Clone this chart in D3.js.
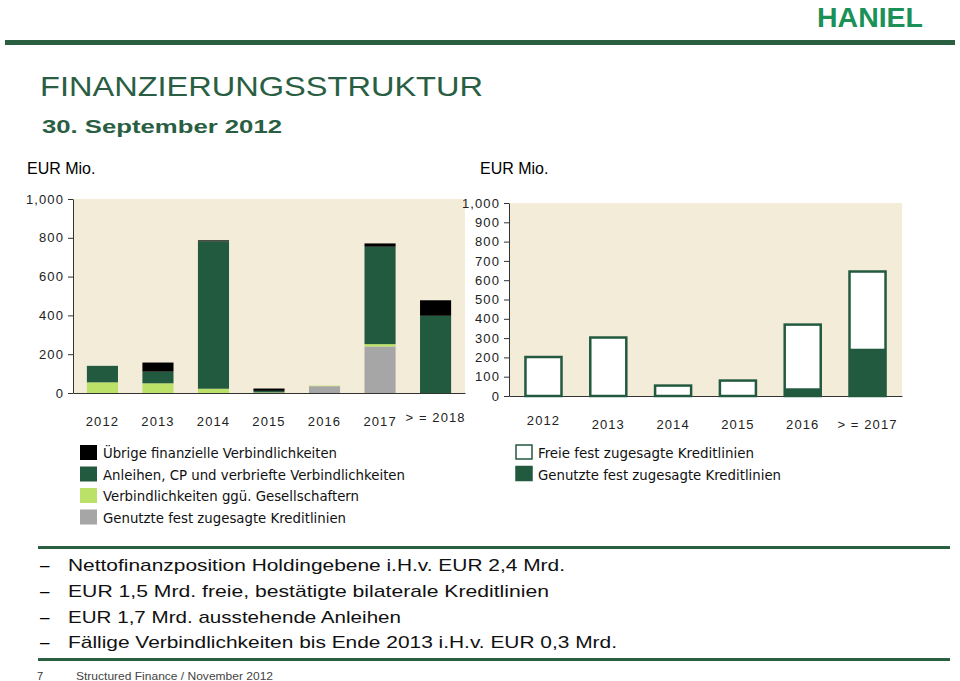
<!DOCTYPE html>
<html lang="de">
<head>
<meta charset="utf-8">
<title>Finanzierungsstruktur</title>
<script src="https://d3js.org/d3.v7.min.js"></script>
<style>
  body { margin: 0; background: #fff; }
  svg text { font-family: "Liberation Sans", Arial, sans-serif; }
  .achse text { font-size: 13px; letter-spacing: 1.1px; fill: #222; }
  .achse path, .achse line { stroke: #333; }
  .leg text { font-family: "DejaVu Sans Condensed", "DejaVu Sans", sans-serif; font-size: 14px; fill: #111; }
</style>
</head>
<body>
<div id="chart"></div>
<script>
"use strict";

// linke grafik: faelligkeiten nach jahr
var jahreLinks = ["2012", "2013", "2014", "2015", "2016", "2017", "> = 2018"];
var genutzteKredit = [0, 0, 0, 0, 35, 240, 0];
var gesellschafter = [55, 50, 22, 3, 3, 12, 0];
var anleihen = [85, 60, 760, 8, 0, 502, 398];
var uebrige = [0, 47, 5, 12, 0, 17, 80];
var ticksLinks = [0, 200, 400, 600, 800, 1000];

// rechte grafik: kreditlinien
var jahreRechts = ["2012", "2013", "2014", "2015", "2016", "> = 2017"];
var genutzteLinien = [2, 5, 2, 2, 40, 245];
var freieLinien = [200, 298, 52, 78, 330, 400];
var ticksRechts = [0, 100, 200, 300, 400, 500, 600, 700, 800, 900, 1000];

var legendeLinks = ["Übrige finanzielle Verbindlichkeiten", "Anleihen, CP und verbriefte Verbindlichkeiten",
  "Verbindlichkeiten ggü. Gesellschaftern", "Genutzte fest zugesagte Kreditlinien"];
var legendeRechts = ["Freie fest zugesagte Kreditlinien", "Genutzte fest zugesagte Kreditlinien"];

var stichpunkte = ["Nettofinanzposition Holdingebene i.H.v. EUR 2,4 Mrd.",
  "EUR 1,5 Mrd. freie, bestätigte bilaterale Kreditlinien",
  "EUR 1,7 Mrd. ausstehende Anleihen",
  "Fällige Verbindlichkeiten bis Ende 2013 i.H.v. EUR 0,3 Mrd."];

var gruen = "#225a3f", hellgruen = "#bbe169", grau = "#a6a6a6", beige = "#f3ecd8", linie = "#2b5f42";

var svg = d3.select("#chart").append("svg").attr("width", 960).attr("height", 681);

// kopf
svg.append("text").attr("x", 817).attr("y", 27).attr("textLength", 106).attr("lengthAdjust", "spacingAndGlyphs")
  .style("font-size", "28px").style("font-weight", "bold").style("fill", "#1b9157").text("HANIEL");
svg.append("rect").attr("x", 5).attr("y", 40).attr("width", 950).attr("height", 5).attr("fill", linie);
svg.append("text").attr("x", 40).attr("y", 96).attr("textLength", 443).attr("lengthAdjust", "spacingAndGlyphs")
  .style("font-family", "'Liberation Sans Narrow', 'Liberation Sans', sans-serif")
  .style("font-size", "28px").style("fill", "#2a5e43").text("FINANZIERUNGSSTRUKTUR");
svg.append("text").attr("x", 42).attr("y", 133).attr("textLength", 240).attr("lengthAdjust", "spacingAndGlyphs")
  .style("font-size", "18px").style("font-weight", "bold").style("fill", "#2a5e43").text("30. September 2012");

svg.append("text").attr("x", 27).attr("y", 174).style("font-size", "16px").text("EUR Mio.");
svg.append("text").attr("x", 480).attr("y", 174).style("font-size", "16px").text("EUR Mio.");

function zeichneAchsen(g, x, y, ticks, xl, xr, labelDy) {
  g.append("rect").attr("x", xl).attr("y", y(1000)).attr("width", xr - xl).attr("height", y(0) - y(1000)).attr("fill", beige);
  var ya = g.append("g").attr("class", "achse").attr("transform", "translate(" + xl + ",0)")
    .call(d3.axisLeft(y).tickValues(ticks).tickFormat(d3.format(",")).tickSize(5).tickSizeOuter(0).tickPadding(4));
  var xa = g.append("g").attr("class", "achse").attr("transform", "translate(0," + y(0) + ")")
    .call(d3.axisBottom(x).tickSize(0).tickPadding(24));
  xa.selectAll(".tick text").attr("dy", function (d, i) { return labelDy(i); });
  return xa;
}

// linke grafik
var xL = d3.scaleBand().domain(jahreLinks).range([73, 465]).paddingInner(0.44).paddingOuter(0.25);
var yL = d3.scaleLinear().domain([0, 1000]).range([393, 199]);
var gL = svg.append("g");
zeichneAchsen(gL, xL, yL, ticksLinks, 73, 465, function (i) { return i === 6 ? "0.35em" : "0.71em"; });

var tabelleL = jahreLinks.map(function (j, i) {
  return { jahr: j, grau: genutzteKredit[i], hell: gesellschafter[i], dunkel: anleihen[i], schwarz: uebrige[i] };
});
var stapelL = d3.stack().keys(["grau", "hell", "dunkel", "schwarz"])(tabelleL);
var farbenL = { grau: grau, hell: hellgruen, dunkel: gruen, schwarz: "#000" };
gL.selectAll("g.serie").data(stapelL).enter().append("g").attr("class", "serie")
  .attr("fill", function (s) { return farbenL[s.key]; })
  .selectAll("rect").data(function (s) { return s; }).enter().append("rect")
  .attr("x", function (d) { return xL(d.data.jahr); })
  .attr("width", xL.bandwidth())
  .attr("y", function (d) { return yL(d[1]); })
  .attr("height", function (d) { return yL(d[0]) - yL(d[1]); });
gL.select(".achse").raise();

// rechte grafik
var xR = d3.scaleBand().domain(jahreRechts).range([509, 902]).paddingInner(0.444).paddingOuter(0.254);
var yR = d3.scaleLinear().domain([0, 1000]).range([396, 203]);
var gR = svg.append("g");
zeichneAchsen(gR, xR, yR, ticksRechts, 509, 902, function (i) { return i === 0 ? "0.35em" : "0.71em"; });

var tabelleR = jahreRechts.map(function (j, i) {
  return { jahr: j, genutzt: genutzteLinien[i], frei: freieLinien[i] };
});
gR.selectAll("rect.frei").data(tabelleR).enter().append("rect").attr("class", "frei")
  .attr("x", function (d) { return xR(d.jahr); })
  .attr("width", xR.bandwidth())
  .attr("y", function (d) { return yR(d.genutzt + d.frei); })
  .attr("height", function (d) { return yR(0) - yR(d.genutzt + d.frei); })
  .attr("fill", "#fff").attr("stroke", gruen).attr("stroke-width", 2.5);
gR.selectAll("rect.genutzt").data(tabelleR).enter().append("rect").attr("class", "genutzt")
  .attr("x", function (d) { return xR(d.jahr); })
  .attr("width", xR.bandwidth())
  .attr("y", function (d) { return yR(d.genutzt); })
  .attr("height", function (d) { return yR(0) - yR(d.genutzt); })
  .attr("fill", gruen);

// legenden
var legL = svg.append("g").attr("class", "leg");
var legFarbenL = ["#000", gruen, hellgruen, grau];
var legBreitenL = [234, 302, 256, 243];
legendeLinks.forEach(function (t, i) {
  var yy = 445 + i * 21.5;
  legL.append("rect").attr("x", 80).attr("y", yy).attr("width", 17).attr("height", 15).attr("fill", legFarbenL[i]);
  legL.append("text").attr("x", 103).attr("y", yy + 13).attr("textLength", legBreitenL[i])
    .attr("lengthAdjust", "spacingAndGlyphs").text(t);
});
var legR = svg.append("g").attr("class", "leg");
var legBreitenR = [216, 243];
legendeRechts.forEach(function (t, i) {
  var yy = 445 + i * 21.5;
  legR.append("rect").attr("x", 516).attr("y", yy).attr("width", 16).attr("height", 14)
    .attr("fill", i === 0 ? "#fff" : gruen).attr("stroke", gruen).attr("stroke-width", 1.5);
  legR.append("text").attr("x", 538).attr("y", yy + 13).attr("textLength", legBreitenR[i])
    .attr("lengthAdjust", "spacingAndGlyphs").text(t);
});

// stichpunkte
svg.append("rect").attr("x", 38).attr("y", 546).attr("width", 912).attr("height", 3).attr("fill", linie);
var breiten = [497, 481, 333, 549];
stichpunkte.forEach(function (t, i) {
  var yy = 571 + i * 25.8;
  svg.append("text").attr("x", 40).attr("y", yy).style("font-size", "17px").text("–");
  svg.append("text").attr("x", 68).attr("y", yy).attr("textLength", breiten[i]).attr("lengthAdjust", "spacingAndGlyphs")
    .style("font-size", "17px").style("fill", "#111").text(t);
});
svg.append("rect").attr("x", 38).attr("y", 658).attr("width", 912).attr("height", 3).attr("fill", linie);

// fusszeile
svg.append("text").attr("x", 37).attr("y", 680).style("font-size", "11px").style("fill", "#333").text("7");
svg.append("text").attr("x", 76).attr("y", 680).attr("textLength", 197).attr("lengthAdjust", "spacingAndGlyphs")
  .style("font-size", "11px").style("fill", "#444").text("Structured Finance / November 2012");
</script>
</body>
</html>
